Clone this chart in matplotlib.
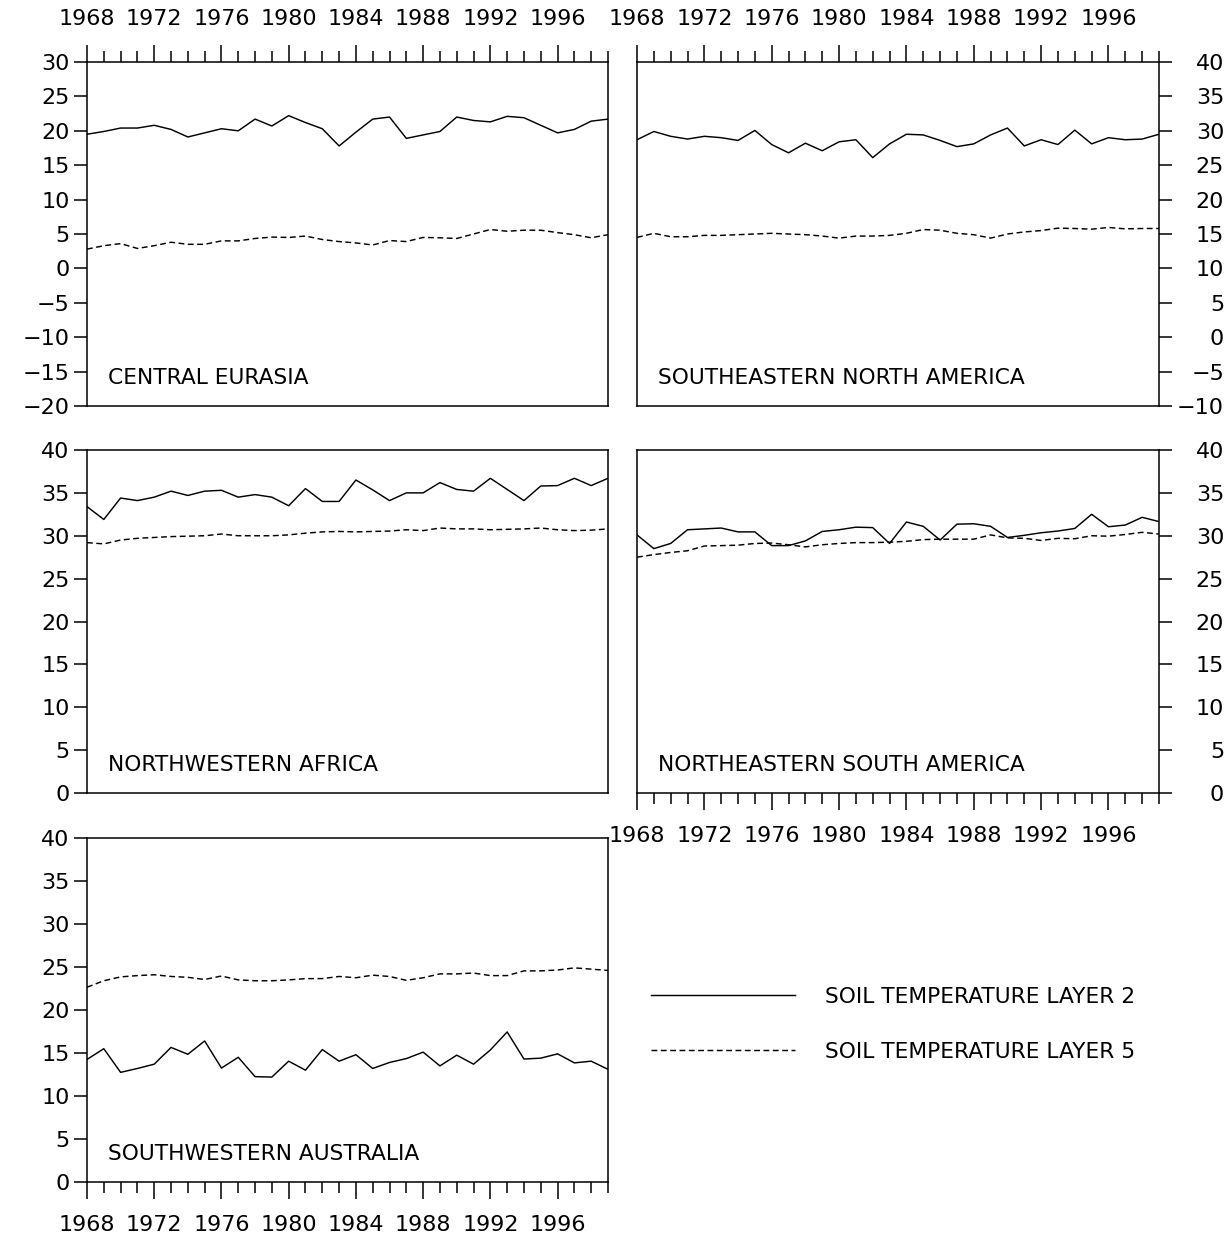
import matplotlib
matplotlib.use("Agg")
import matplotlib.pyplot as plt
from matplotlib.ticker import MultipleLocator, FixedLocator

years = list(range(1968, 2000))

# Central Eurasia
ce_l2 = [19.5, 19.9, 20.4, 20.4, 20.8, 20.2, 19.1, 19.7, 20.3, 20.0, 21.7, 20.7,
         22.2, 21.2, 20.3, 17.8, 19.8, 21.7, 22.0, 18.9, 19.4, 19.9, 22.0, 21.5,
         21.3, 22.1, 21.9, 20.8, 19.7, 20.2, 21.4, 21.7]
ce_l5 = [2.8, 3.3, 3.6, 2.9, 3.3, 3.8, 3.5, 3.5, 4.0, 4.0, 4.35, 4.55,
         4.5, 4.7, 4.2, 3.9, 3.7, 3.4, 4.05, 3.9, 4.5, 4.45, 4.35, 5.0,
         5.65, 5.4, 5.55, 5.55, 5.2, 4.9, 4.45, 4.9]

# Southeastern North America
sena_l2 = [28.7, 29.9, 29.2, 28.8, 29.2, 29.0, 28.6, 30.05, 28.0, 26.8, 28.2, 27.1,
           28.4, 28.7, 26.1, 28.1, 29.5, 29.4, 28.6, 27.7, 28.1, 29.4, 30.4, 27.8,
           28.7, 28.0, 30.1, 28.1, 29.0, 28.7, 28.8, 29.5]
sena_l5 = [14.5, 15.1, 14.6, 14.6, 14.8, 14.8, 14.9, 15.0, 15.1, 15.0, 14.9, 14.7,
           14.4, 14.7, 14.7, 14.8, 15.1, 15.65, 15.55, 15.1, 14.9, 14.4, 15.0, 15.3,
           15.5, 15.85, 15.8, 15.7, 15.95, 15.75, 15.8, 15.8]

# Northwestern Africa
nwa_l2 = [33.4, 31.9, 34.4, 34.1, 34.5, 35.2, 34.7, 35.2, 35.3, 34.5, 34.8, 34.5,
          33.5, 35.5, 34.0, 34.0, 36.5, 35.35, 34.1, 35.0, 35.0, 36.2, 35.4, 35.2,
          36.7, 35.4, 34.1, 35.8, 35.85, 36.7, 35.85, 36.7]
nwa_l5 = [29.2, 29.05, 29.5, 29.7, 29.8, 29.9, 29.95, 30.0, 30.2, 30.0, 30.0, 30.0,
          30.1, 30.3, 30.45, 30.5, 30.45, 30.5, 30.55, 30.7, 30.6, 30.9, 30.8, 30.8,
          30.7, 30.75, 30.8, 30.9, 30.7, 30.6, 30.65, 30.8]

# Northeastern South America
nesa_l2 = [30.1, 28.5, 29.1, 30.7, 30.8, 30.9, 30.45, 30.45, 28.85, 28.85, 29.4, 30.5,
           30.7, 31.0, 30.95, 29.1, 31.6, 31.1, 29.5, 31.35, 31.4, 31.1, 29.8, 30.05,
           30.35, 30.55, 30.85, 32.5, 31.05, 31.25, 32.15, 31.65]
nesa_l5 = [27.5, 27.8, 28.05, 28.25, 28.8, 28.85, 28.9, 29.1, 29.15, 28.95, 28.7, 28.95,
           29.1, 29.2, 29.2, 29.25, 29.35, 29.55, 29.6, 29.6, 29.6, 30.1, 29.75, 29.7,
           29.45, 29.7, 29.65, 30.0, 29.95, 30.15, 30.4, 30.2]

# Southwestern Australia
swa_l2 = [14.25, 15.5, 12.75, 13.2, 13.7, 15.65, 14.85, 16.4, 13.25, 14.5, 12.25, 12.2,
          14.05, 13.0, 15.4, 14.05, 14.8, 13.2, 13.9, 14.35, 15.1, 13.5, 14.75, 13.7,
          15.35, 17.45, 14.3, 14.4, 14.9, 13.85, 14.05, 13.1]
swa_l5 = [22.65, 23.4, 23.85, 24.0, 24.1, 23.9, 23.8, 23.55, 23.95, 23.5, 23.4, 23.4,
          23.5, 23.65, 23.65, 23.9, 23.75, 24.05, 23.9, 23.45, 23.75, 24.2, 24.2, 24.3,
          24.0, 24.0, 24.55, 24.55, 24.65, 24.9, 24.75, 24.6]

region_names = ["CENTRAL EURASIA", "SOUTHEASTERN NORTH AMERICA", "NORTHWESTERN AFRICA",
                "NORTHEASTERN SOUTH AMERICA", "SOUTHWESTERN AUSTRALIA"]
ylims = [(-20, 30), (-10, 40), (0, 40), (0, 40), (0, 40)]
legend_labels = ["SOIL TEMPERATURE LAYER 2", "SOIL TEMPERATURE LAYER 5"]
xtick_labels_years = list(range(1968, 1997, 4))

series = [(ce_l2, ce_l5), (sena_l2, sena_l5), (nwa_l2, nwa_l5),
          (nesa_l2, nesa_l5), (swa_l2, swa_l5)]

plt.rcParams['font.family'] = ['DejaVu Sans']
FS_TICK = 16
FS_TEXT = 15.7

W, H = 1232, 1240
fig = plt.figure(figsize=(W / 100, H / 100), dpi=100)

def px_axes(x0, x1, y0, y1):
    return fig.add_axes([x0 / W, 1 - y1 / H, (x1 - x0) / W, (y1 - y0) / H])

boxes = [
    (87, 608, 62, 406),
    (637, 1159, 62, 406),
    (87, 608, 450, 793),
    (637, 1159, 450, 793),
    (87, 608, 838, 1182),
]
xpos = ['top', 'top', 'none', 'bottom', 'bottom']
ypos = ['left', 'right', 'left', 'right', 'left']

LW = 1.05
handles = None
for i, (box, name, yl, (s2, s5)) in enumerate(zip(boxes, region_names, ylims, series)):
    ax = px_axes(*box)
    h1, = ax.plot(years, s2, color='black', lw=LW, ls='-')
    h2, = ax.plot(years, s5, color='black', lw=LW, ls=(0, (4, 2.4)))
    if handles is None:
        handles = [h1, h2]
    ax.set_xlim(1968, 1999)
    ax.set_ylim(*yl)
    for sp in ax.spines.values():
        sp.set_linewidth(1.1)

    # x axis
    ax.xaxis.set_major_locator(FixedLocator(xtick_labels_years))
    ax.xaxis.set_minor_locator(MultipleLocator(1))
    ax.set_xticklabels([str(y) for y in xtick_labels_years])
    if xpos[i] == 'top':
        ax.tick_params(axis='x', which='both', top=True, bottom=False,
                       labeltop=True, labelbottom=False, direction='out')
    elif xpos[i] == 'bottom':
        ax.tick_params(axis='x', which='both', top=False, bottom=True,
                       labeltop=False, labelbottom=True, direction='out')
    else:
        ax.tick_params(axis='x', which='both', top=False, bottom=False,
                       labeltop=False, labelbottom=False)
    ax.tick_params(axis='x', which='major', length=12.5, width=1.1, pad=11.5,
                   labelsize=FS_TICK)
    ax.tick_params(axis='x', which='minor', length=8, width=1.1)

    # y axis
    yt = list(range(yl[0], yl[1] + 1, 5))
    ax.set_yticks(yt)
    if ypos[i] == 'left':
        ax.tick_params(axis='y', which='major', left=True, right=False,
                       labelleft=True, labelright=False, direction='out',
                       length=9.4, width=1.1, pad=3, labelsize=FS_TICK)
    else:
        ax.tick_params(axis='y', which='major', left=False, right=True,
                       labelleft=False, labelright=True, direction='out',
                       length=9.4, width=1.1, pad=37.5, labelsize=FS_TICK)
        for t in ax.yaxis.get_major_ticks():
            t.label2.set_horizontalalignment('right')
    ax.tick_params(axis='y', which='minor', left=False, right=False)

    ax.text(0.040, 0.081, name, transform=ax.transAxes, fontsize=FS_TEXT,
            ha='left', va='center')

fs_px = FS_TEXT * 100 / 72
fig.legend(handles, legend_labels, loc='center left',
           bbox_to_anchor=(651 / W, 1 - 1024.5 / H), frameon=False,
           fontsize=FS_TEXT, handlelength=144 / fs_px, handletextpad=30 / fs_px,
           labelspacing=(57 - fs_px) / fs_px, borderpad=0, borderaxespad=0)

fig.savefig("out.png", dpi=100)
